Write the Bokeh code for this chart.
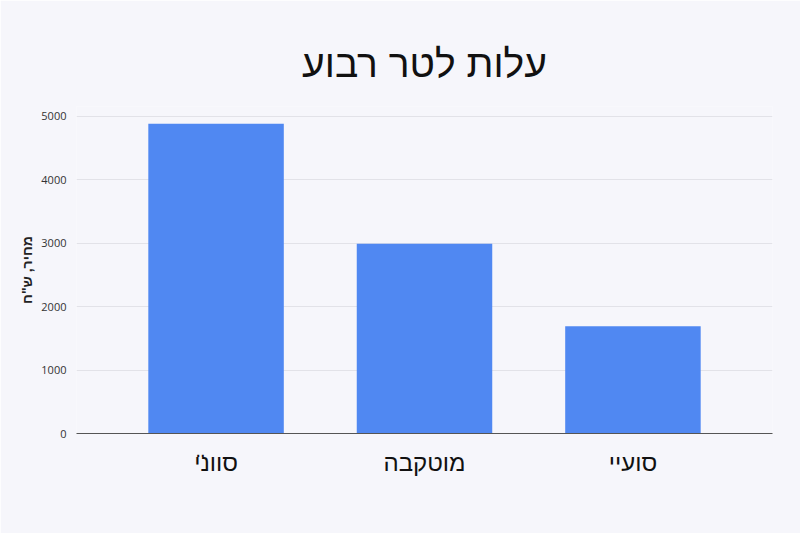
from bokeh.plotting import figure
from bokeh.models import ColumnDataSource, FactorRange, Range1d, FixedTicker
from bokeh.embed import file_html
from bokeh.resources import INLINE

categories = ["סוונ̈י", "מוטקבה", "סועיי"]
values = [4880, 2990, 1690]
y_ticks = [0, 1000, 2000, 3000, 4000, 5000]
title_text = "עלות לטר רבוע"
y_label = 'מחיר, ש"ח'

BG = "#F6F6FB"
BAR = "#5088F2"

src = ColumnDataSource(dict(cat=categories, val=values))

p = figure(
    width=800, height=533,
    x_range=FactorRange(factors=categories, range_padding=0.113, range_padding_units="percent"),
    y_range=Range1d(0, 5150),
    output_backend="svg", toolbar_location=None,
    background_fill_color=BG, border_fill_color=BG,
    min_border_left=76, min_border_right=28, min_border_bottom=100, min_border_top=106,
    outline_line_color=None,
)

p.vbar(x="cat", top="val", width=0.65, source=src, fill_color=BAR, line_color=None)

p.title.text = title_text
p.title.align = "center"
p.title.text_font = "Liberation Sans"
p.title.text_font_size = "39px"
p.title.text_font_style = "normal"
p.title.text_color = "#111111"
p.title.standoff = 44

p.xgrid.grid_line_color = None
p.ygrid.grid_line_color = "#E2E2E8"
p.ygrid.grid_line_width = 1
p.yaxis.ticker = FixedTicker(ticks=y_ticks)

p.yaxis.axis_line_color = None
p.yaxis.major_tick_line_color = None
p.yaxis.minor_tick_line_color = None
p.yaxis.major_label_text_font = "Open Sans"
p.yaxis.major_label_text_font_size = "11px"
p.yaxis.major_label_text_color = "#333333"
p.yaxis.major_label_standoff = 4
p.yaxis.axis_label = y_label
p.yaxis.axis_label_text_font = "Liberation Sans"
p.yaxis.axis_label_text_font_size = "14px"
p.yaxis.axis_label_text_font_style = "bold"
p.yaxis.axis_label_text_color = "#222222"
p.yaxis.axis_label_standoff = 3

p.xaxis.axis_line_color = "#555555"
p.xaxis.axis_line_width = 1.2
p.xaxis.major_tick_line_color = None
p.xaxis.minor_tick_line_color = None
p.xaxis.major_label_text_font = "Liberation Sans"
p.xaxis.major_label_text_font_size = "24px"
p.xaxis.major_label_text_color = "#111111"
p.xaxis.major_label_standoff = 9

open("out.html", "w").write(file_html(p, INLINE))
